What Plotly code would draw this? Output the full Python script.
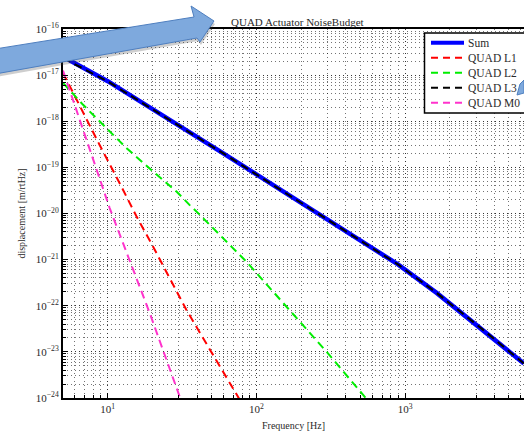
import plotly.graph_objects as go

# Actuator noise contributions (displacement ASD, m/rtHz) per stage
f_sum = [5, 10, 57, 90, 427, 900, 1630, 3370, 6300]
sum_asd = [2.5e-17, 7.4e-18, 2.22e-19, 8.7e-20, 3.7e-21, 7.8e-22, 1.9e-22, 2.96e-23, 5.6e-24]

f_l1 = [5, 6.5, 8.8, 12.0, 15.6, 20.2, 33.9, 51.2, 75.3, 80]
l1_asd = [1.12e-17, 2.1e-18, 3.1e-19, 4.6e-20, 8.7e-21, 1.9e-21, 8.0e-23, 8.5e-24, 1.06e-24, 7.6e-25]

f_l2 = [5, 6.8, 9.8, 13.4, 20.2, 29.0, 35.6, 41.7, 86, 168, 297, 524, 560]
l2_asd = [6.8e-18, 2.3e-18, 7.1e-19, 2.6e-19, 8.1e-20, 3.0e-20, 1.52e-20, 9.3e-21,
          8.9e-22, 8.0e-23, 1.0e-23, 1.15e-24, 8.9e-25]

f_l3 = [5, 10, 57, 90, 427, 900, 1630, 3370, 6300]
l3_asd = [2.35e-17, 7.3e-18, 2.22e-19, 8.7e-20, 3.7e-21, 7.8e-22, 1.9e-22, 2.96e-23, 5.6e-24]

f_m0 = [5, 6.65, 8.0, 10.3, 19.2, 23.6, 30.5, 32]
m0_asd = [1.26e-17, 8.4e-19, 1.58e-19, 1.31e-20, 6.8e-23, 1.09e-23, 1.06e-24, 6.9e-25]

x_ticks = [10, 100, 1000]
x_ticktext = ["10<sup>1</sup>", "10<sup>2</sup>", "10<sup>3</sup>"]
y_exps = [-24, -23, -22, -21, -20, -19, -18, -17, -16]

FONT = "Liberation Serif"
TXT = "#2a2a2a"
W, H = 524, 436
ML, MR, MT, MB = 63, 0, 29, 38
PW, PH = W - ML - MR, H - MT - MB

dash = "8px,5px"
series = [
    ("Sum", f_sum, sum_asd, dict(color="#0000ff", width=4.5)),
    ("QUAD L1", f_l1, l1_asd, dict(color="#ff0000", width=2, dash=dash)),
    ("QUAD L2", f_l2, l2_asd, dict(color="#00ee00", width=2, dash=dash)),
    ("QUAD L3", f_l3, l3_asd, dict(color="#000000", width=2, dash=dash)),
    ("QUAD M0", f_m0, m0_asd, dict(color="#ff33cc", width=2, dash=dash)),
]

fig = go.Figure()
for name, fx, fy, style in series:
    fig.add_trace(go.Scatter(x=fx, y=fy, name=name, mode="lines", line=style, showlegend=False))

grid = "rgba(0,0,0,0.55)"
gdash = "1px,3px"
fig.update_xaxes(
    type="log", range=[0.699, 3.80],
    tickvals=x_ticks, ticktext=x_ticktext,
    ticks="inside", ticklen=5, tickcolor="black",
    showline=True, linecolor="black", linewidth=2, mirror=True,
    showgrid=True, gridcolor=grid, griddash=gdash, gridwidth=1,
    minor=dict(dtick="D1", ticks="inside", ticklen=3, tickcolor="black",
               showgrid=True, gridcolor=grid, griddash=gdash, gridwidth=1),
    tickfont=dict(family=FONT, size=11, color=TXT),
    title=dict(text="Frequency [Hz]", font=dict(family=FONT, size=10, color=TXT), standoff=8),
    zeroline=False,
)
fig.update_yaxes(
    type="log", range=[-24, -16],
    tickvals=[10.0 ** e for e in y_exps],
    ticktext=["10<sup>\u2212%d</sup>" % (-e) for e in y_exps],
    ticks="inside", ticklen=5, tickcolor="black",
    showline=True, linecolor="black", linewidth=2, mirror=False,
    showgrid=True, gridcolor=grid, griddash=gdash, gridwidth=1,
    minor=dict(dtick="D1", ticks="inside", ticklen=3, tickcolor="black",
               showgrid=True, gridcolor=grid, griddash=gdash, gridwidth=1),
    tickfont=dict(family=FONT, size=11, color=TXT),
    title=dict(text="displacement [m/rtHz]", font=dict(family=FONT, size=10, color=TXT), standoff=8),
    zeroline=False,
)


def px(x, y):
    """Pixel position on the page -> paper coordinates."""
    return (x - ML) / PW, (H - MB - y) / PH


def path(points):
    pts = [px(x, y) for x, y in points]
    return "M" + " L".join("%.4f,%.4f" % p for p in pts) + " Z"


shapes = []
annotations = []

# legend box with one sample line and label per series
LX0, LY0, LX1, LY1 = 424.5, 33, 530, 113
x0p, y0p = px(LX0, LY0)
x1p, y1p = px(LX1, LY1)
shapes.append(dict(type="rect", xref="paper", yref="paper", x0=x0p, y0=y1p, x1=x1p, y1=y0p,
                   fillcolor="white", line=dict(color="black", width=1.5), layer="above"))
for i, (name, _, _, style) in enumerate(series):
    ry = 42.7 + 15.0 * i
    sx0, sy = px(431, ry)
    sx1, _ = px(464, ry)
    shapes.append(dict(type="line", xref="paper", yref="paper", x0=sx0, x1=sx1, y0=sy, y1=sy,
                       line=dict(color=style["color"],
                                 width=4 if name == "Sum" else 2,
                                 dash=None if name == "Sum" else "7px,5px"),
                       layer="above"))
    tx, _ = px(466, ry)
    annotations.append(dict(text=name, x=tx, y=sy, xref="paper", yref="paper",
                            xanchor="left", yanchor="middle", showarrow=False,
                            font=dict(family=FONT, size=11.5, color=TXT)))

# callout arrows over the figure
big_arrow = [(-5, 49), (194, 17), (191, 6), (214, 21), (200, 42), (197, 38), (-5, 74)]
small_arrow = [(524, 80), (520, 84), (517, 95), (524, 93)]
shapes += [
    dict(type="path", xref="paper", yref="paper", path=path([(x + 1, y + 3) for x, y in big_arrow]),
         fillcolor="rgba(60,60,60,0.25)", line=dict(width=0), layer="above"),
    dict(type="path", xref="paper", yref="paper", path=path(big_arrow),
         fillcolor="#7ea9dd", line=dict(color="#4f7fbf", width=1), layer="above"),
    dict(type="path", xref="paper", yref="paper", path=path(small_arrow),
         fillcolor="#7ea9dd", line=dict(color="#4f7fbf", width=1), layer="above"),
]

tx, ty = px(297, 14)
annotations.append(dict(text="QUAD Actuator NoiseBudget", x=tx, y=ty, xref="paper", yref="paper",
                        showarrow=False, font=dict(family=FONT, size=11, color=TXT)))

fig.update_layout(
    width=W, height=H,
    margin=dict(l=ML, r=MR, t=MT, b=MB),
    paper_bgcolor="white", plot_bgcolor="white",
    font=dict(family=FONT, color=TXT),
    showlegend=False,
    annotations=annotations,
    shapes=shapes,
)

fig.write_html("out.html")
